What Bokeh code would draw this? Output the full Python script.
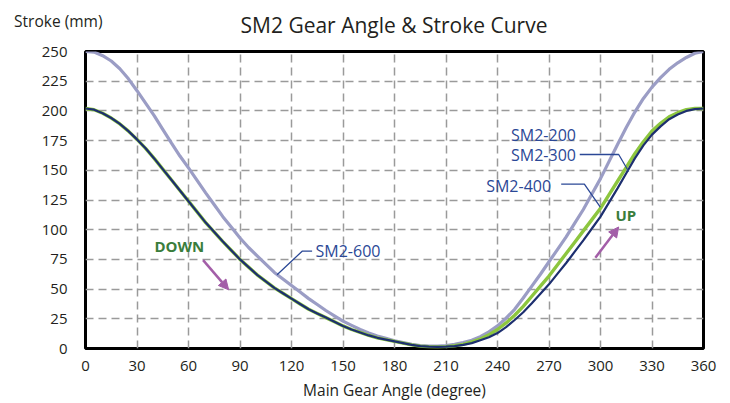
from bokeh.plotting import figure
from bokeh.layouts import column
from bokeh.models import Label, Arrow, NormalHead, FixedTicker, Range1d
from bokeh.embed import file_html
from bokeh.resources import INLINE

# ---------------- data ----------------
angle = list(range(0, 361, 5))

sm2_600 = [250, 249.5, 246.5, 242, 235.5, 227, 217, 206.5, 196, 184.5, 173, 162, 152, 141.5, 131,
           121, 111, 102, 93, 85, 78, 71, 64, 58.5, 53, 47.5, 42, 37, 32, 27.5, 23, 19.5, 16, 13,
           10.5, 8.5, 6.5, 5, 3.5, 2.5, 2, 2, 2.5, 3.5, 5, 7, 10, 14, 19, 25.5, 33, 42.5, 52.5,
           62.5, 73, 83.5, 94, 105.5, 117, 130, 143, 157.5, 172, 186, 199, 210.5, 220, 228, 235,
           240.5, 245, 248.5, 250]

sm2_200_300 = [202, 201, 198, 194, 189, 183, 176, 168.5, 160, 151, 142, 133, 124, 115, 106, 98,
               90, 82.5, 75, 68.5, 62, 56.5, 51, 46.5, 42, 37.5, 33, 29.5, 26, 22.5, 19, 16, 13.5,
               11, 9, 7.5, 6, 4.5, 3, 2, 1.5, 1.3, 1.6, 2.3, 3.5, 5.5, 8, 11.5, 16, 21.5, 28, 35.5,
               44, 52.5, 61, 70.5, 80, 89.5, 99, 108.5, 118, 129.5, 141, 152.5, 164, 174, 183,
               189.5, 195, 198.5, 201, 202, 202]

sm2_400 = [202, 201, 198, 194, 189, 183, 176, 168.5, 160, 151, 142, 133, 124, 115, 106, 98, 90,
           82.5, 75, 68.5, 62, 56.5, 51, 46.5, 42, 37.5, 33, 29.5, 26, 22.5, 19, 16, 13.5, 11, 9,
           7.5, 6, 4.5, 3, 2, 1.5, 1.3, 1.5, 2, 3, 4.5, 7, 9.5, 13, 18, 24, 30.5, 38, 46, 54, 63,
           72, 81.5, 91, 101, 111, 123, 135, 147.5, 160, 171, 180, 187, 193, 197, 200, 201.5, 202]

x_ticks = [0, 30, 60, 90, 120, 150, 180, 210, 240, 270, 300, 330, 360]
y_ticks = [0, 25, 50, 75, 100, 125, 150, 175, 200, 225, 250]

title_text = "SM2 Gear Angle & Stroke Curve"
x_title = "Main Gear Angle (degree)"
y_title = "Stroke (mm)"

# annotation anchors (data coordinates)
lead_300_x = [287.9, 310.6, 316.4]
lead_300_y = [163.3, 163.3, 149.0]
lead_400_x = [277.1, 290.6, 299.9]
lead_400_y = [138.3, 138.3, 119.0]
lead_600_x = [111.6, 126.2, 132.0]
lead_600_y = [62.0, 81.9, 81.9]

FONT = "Open Sans"
NAVY = "#1d2f6f"
LIGHT = "#9b9dc5"
GREEN = "#8dc63f"
TEXT_BLUE = "#2b4896"
DARK_GREEN = "#3a7d3c"
PURPLE = "#a35ea8"
INK = "#231f20"

# ---------------- heading strip (frame is aligned with the chart frame) ----------------
head = figure(width=730, height=40, output_backend="svg", toolbar_location=None,
              x_range=Range1d(85, 703), y_range=Range1d(0, 40), x_axis_type=None,
              min_border_left=0, min_border_right=0, min_border_top=0, min_border_bottom=0)
head.outline_line_color = None
head.xgrid.visible = False
head.ygrid.visible = False
hy = head.yaxis[0]
hy.ticker = FixedTicker(ticks=[20])
hy.major_label_overrides = {20: y_title}
hy.axis_line_color = None
hy.major_tick_line_color = None
hy.minor_tick_line_color = None
hy.major_tick_out = 0
hy.major_tick_in = 0
hy.major_label_standoff = -17
hy.major_label_text_font = FONT
hy.major_label_text_font_size = "15.5px"
hy.major_label_text_color = INK
head.add_layout(Label(x=393.5, y=15.5, text=title_text, text_font=FONT, text_font_size="21px",
                      text_color=INK, text_align="center", text_baseline="middle"))

# ---------------- chart ----------------
p = figure(width=730, height=363, output_backend="svg", toolbar_location=None,
           x_range=Range1d(0, 360), y_range=Range1d(0, 250),
           min_border_left=85, min_border_right=27, min_border_top=11, min_border_bottom=52)

p.outline_line_color = "black"
p.outline_line_width = 3
p.outline_line_alpha = 1.0
p.background_fill_color = "white"
p.border_fill_color = "white"

for ax in (p.xaxis[0], p.yaxis[0]):
    ax.axis_line_color = None
    ax.major_tick_line_color = None
    ax.minor_tick_line_color = None
    ax.major_tick_out = 0
    ax.major_tick_in = 0
    ax.major_label_text_font = FONT
    ax.major_label_text_font_size = "15px"
    ax.major_label_text_color = INK

p.xaxis.ticker = FixedTicker(ticks=x_ticks)
p.yaxis.ticker = FixedTicker(ticks=y_ticks)
p.xaxis.major_label_standoff = 12
p.yaxis.major_label_standoff = 18

p.xaxis.axis_label = x_title
p.xaxis.axis_label_text_font = FONT
p.xaxis.axis_label_text_font_size = "15.5px"
p.xaxis.axis_label_text_font_style = "normal"
p.xaxis.axis_label_text_color = INK
p.xaxis.axis_label_standoff = 5

for g in (p.xgrid[0], p.ygrid[0]):
    g.grid_line_color = "#9a9a9a"
    g.grid_line_width = 1.5
    g.grid_line_dash = "8 5"

p.line(angle, sm2_600, line_color=LIGHT, line_width=3.2)
p.line(angle, sm2_200_300, line_color=GREEN, line_width=3.4)
p.line(angle, sm2_400, line_color=NAVY, line_width=2.2)

# leader lines
p.line(lead_300_x, lead_300_y, line_color=TEXT_BLUE, line_width=1.3)
p.line(lead_400_x, lead_400_y, line_color=TEXT_BLUE, line_width=1.3)
p.line(lead_600_x, lead_600_y, line_color=TEXT_BLUE, line_width=1.3)

def lab(x, y, text, size="16px", color=TEXT_BLUE, align="left", style="normal"):
    p.add_layout(Label(x=x, y=y, text=text, text_font=FONT, text_font_size=size,
                       text_color=color, text_align=align, text_baseline="middle",
                       text_font_style=style))

lab(247.9, 180.0, "SM2-200")
lab(247.9, 162.8, "SM2-300")
lab(233.4, 136.4, "SM2-400")
lab(134.0, 81.9, "SM2-600")
lab(40.2, 86.4, "DOWN", size="15px", color=DARK_GREEN, style="bold")
lab(308.7, 112.5, "UP", size="15px", color=DARK_GREEN, style="bold")

p.add_layout(Arrow(end=NormalHead(size=10, fill_color=PURPLE, line_color=PURPLE),
                   x_start=68.5, y_start=74.4, x_end=83.4, y_end=49.4,
                   line_color=PURPLE, line_width=2.5))
p.add_layout(Arrow(end=NormalHead(size=10, fill_color=PURPLE, line_color=PURPLE),
                   x_start=297.0, y_start=76.4, x_end=310.6, y_end=102.3,
                   line_color=PURPLE, line_width=2.5))

layout = column(head, p, spacing=0)
open("out.html", "w").write(file_html(layout, INLINE))
